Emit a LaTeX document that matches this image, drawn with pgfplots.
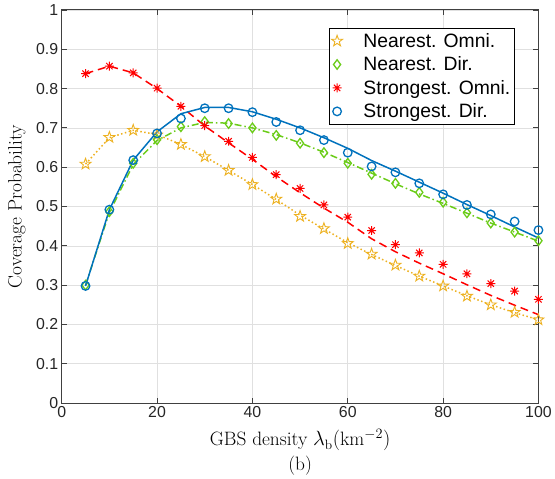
\documentclass[border=0pt]{standalone}
\usepackage{pgfplots}
\pgfplotsset{compat=1.18}
\usepackage{fontspec}
\newfontfamily\arial{Liberation Sans}

\definecolor{cOrange}{rgb}{0.929,0.694,0.125}
\definecolor{cGreen}{rgb}{0.42,0.80,0.10}
\definecolor{cRed}{rgb}{1,0,0}
\definecolor{cBlue}{rgb}{0,0.447,0.741}
\definecolor{cAxis}{rgb}{0.25,0.25,0.25}

\pgfdeclareplotmark{pentagram}{%
  \pgfpathmoveto{\pgfpointpolar{90}{\pgfplotmarksize}}%
  \pgfpathlineto{\pgfpointpolar{126}{0.40\pgfplotmarksize}}%
  \pgfpathlineto{\pgfpointpolar{162}{\pgfplotmarksize}}%
  \pgfpathlineto{\pgfpointpolar{198}{0.40\pgfplotmarksize}}%
  \pgfpathlineto{\pgfpointpolar{234}{\pgfplotmarksize}}%
  \pgfpathlineto{\pgfpointpolar{270}{0.40\pgfplotmarksize}}%
  \pgfpathlineto{\pgfpointpolar{306}{\pgfplotmarksize}}%
  \pgfpathlineto{\pgfpointpolar{342}{0.40\pgfplotmarksize}}%
  \pgfpathlineto{\pgfpointpolar{18}{\pgfplotmarksize}}%
  \pgfpathlineto{\pgfpointpolar{54}{0.40\pgfplotmarksize}}%
  \pgfpathclose
  \pgfusepathqstroke}
\pgfdeclareplotmark{mstar}{%
  \pgfpathmoveto{\pgfqpoint{-\pgfplotmarksize}{0pt}}\pgfpathlineto{\pgfqpoint{\pgfplotmarksize}{0pt}}%
  \pgfpathmoveto{\pgfqpoint{0pt}{-\pgfplotmarksize}}\pgfpathlineto{\pgfqpoint{0pt}{\pgfplotmarksize}}%
  \pgfpathmoveto{\pgfpointpolar{45}{\pgfplotmarksize}}\pgfpathlineto{\pgfpointpolar{225}{\pgfplotmarksize}}%
  \pgfpathmoveto{\pgfpointpolar{135}{\pgfplotmarksize}}\pgfpathlineto{\pgfpointpolar{315}{\pgfplotmarksize}}%
  \pgfusepathqstroke}

\pgfplotstableread{
x  no    nd    so    sd
5  0.608 0.300 0.838 0.298
10 0.676 0.487 0.857 0.492
15 0.694 0.610 0.840 0.618
20 0.682 0.670 0.801 0.686
25 0.658 0.703 0.755 0.724
30 0.627 0.716 0.706 0.750
35 0.592 0.711 0.666 0.750
40 0.556 0.700 0.625 0.740
45 0.519 0.681 0.581 0.715
50 0.475 0.661 0.546 0.694
55 0.444 0.637 0.504 0.669
60 0.406 0.610 0.473 0.637
65 0.379 0.582 0.439 0.602
70 0.351 0.559 0.403 0.587
75 0.323 0.536 0.382 0.559
80 0.298 0.511 0.353 0.531
85 0.272 0.484 0.329 0.504
90 0.250 0.458 0.304 0.480
95 0.231 0.435 0.285 0.462
100 0.212 0.413 0.264 0.440
}\sim

\pgfplotstableread{
x  no    nd    so    sd
5  0.608 0.300 0.838 0.298
10 0.675 0.485 0.857 0.492
15 0.694 0.607 0.840 0.618
20 0.683 0.668 0.800 0.690
25 0.658 0.700 0.755 0.736
30 0.627 0.714 0.705 0.752
35 0.592 0.712 0.662 0.752
40 0.556 0.700 0.620 0.741
45 0.518 0.683 0.576 0.722
50 0.478 0.662 0.535 0.700
55 0.443 0.638 0.496 0.675
60 0.408 0.612 0.460 0.648
65 0.378 0.585 0.418 0.617
70 0.350 0.558 0.385 0.590
75 0.323 0.532 0.356 0.562
80 0.298 0.508 0.329 0.534
85 0.273 0.483 0.301 0.505
90 0.250 0.458 0.274 0.477
95 0.230 0.435 0.249 0.448
100 0.212 0.412 0.225 0.420
}\ana

\begin{document}
\begin{tikzpicture}
\begin{axis}[
  scale only axis,
  width=479bp, height=395bp,
  xmin=0, xmax=100, ymin=0, ymax=1,
  xtick={0,20,...,100},
  ytick={0,0.1,...,1.0},
  grid=major,
  major grid style={color=black!12, line width=0.6bp},
  axis line style={cAxis, line width=1bp},
  tick style={cAxis, line width=0.8bp},
  tick align=inside,
  major tick length=5bp,
  /pgf/number format/assume math mode=true,
  tick label style={font=\arial\fontsize{16}{18}\selectfont, text=black!85},
  yticklabel style={/pgf/number format/fixed},
  label style={font=\fontsize{19.5}{22}\selectfont},
  xlabel={GBS density $\lambda_{\mathrm{b}}(\mathrm{km}^{-2})$},
  ylabel={Coverage Probability},
  xlabel style={at={(axis description cs:0.5,-0.109)}, anchor=base},
  ylabel style={at={(axis description cs:-0.094,0.5)}, anchor=center},
  legend style={at={(0.95,0.954)}, anchor=north east,
    font=\arial\fontsize{19.5}{22}\selectfont, draw=black, line width=0.6bp,
    inner xsep=2bp, inner ysep=3bp, row sep=4bp,
    /tikz/every odd column/.append style={column sep=19bp}},
  legend image post style={xshift=17bp},
  legend cell align=left,
]
% analysis lines
\addplot[cOrange, line width=1.5bp, dash pattern=on 1.5bp off 2.5bp, forget plot] table[x=x,y=no] {\ana};
\addplot[cGreen, line width=1.5bp, dash pattern=on 7bp off 3bp on 1.5bp off 3bp, forget plot] table[x=x,y=nd] {\ana};
\addplot[cRed, line width=1.5bp, dash pattern=on 8bp off 5bp, forget plot] table[x=x,y=so] {\ana};
\addplot[cBlue, line width=1.5bp, forget plot] table[x=x,y=sd] {\ana};
% simulation markers
\addplot[only marks, mark=pentagram, mark size=5.8bp, cOrange, mark options={line width=0.9bp}] table[x=x,y=no] {\sim};
\addlegendentry{Nearest. Omni.}
\addplot[only marks, mark=diamond, mark size=4.8bp, cGreen, mark options={line width=1.3bp}] table[x=x,y=nd] {\sim};
\addlegendentry{Nearest. Dir.}
\addplot[only marks, mark=mstar, mark size=4.5bp, cRed, mark options={line width=1bp}] table[x=x,y=so] {\sim};
\addlegendentry{Strongest. Omni.}
\addplot[only marks, mark=o, mark size=4.3bp, cBlue, mark options={line width=1.3bp}] table[x=x,y=sd] {\sim};
\addlegendentry{Strongest. Dir.}
\end{axis}
\node[anchor=base, font=\fontsize{19.5}{22}\selectfont] at ([yshift=-68bp]current axis.south) {(b)};
\path ([shift={(-62bp,-75bp)}]current axis.south west) rectangle ([shift={(14bp,10bp)}]current axis.north east);
\end{tikzpicture}
\end{document}
